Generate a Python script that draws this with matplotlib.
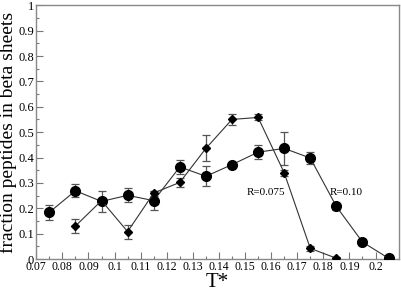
import numpy as np
import matplotlib
matplotlib.use("Agg")
import matplotlib.pyplot as plt
from matplotlib.ticker import FixedLocator

# R = 0.10 (circles)
t_r10 = [0.075, 0.085, 0.095, 0.105, 0.115, 0.125, 0.135, 0.145, 0.155,
         0.165, 0.175, 0.185, 0.195, 0.205]
f_r10 = [0.184, 0.269, 0.227, 0.251, 0.230, 0.363, 0.326, 0.372, 0.421,
         0.436, 0.398, 0.207, 0.067, 0.003]
e_r10 = [0.029, 0.025, 0.040, 0.027, 0.037, 0.029, 0.040, 0.006, 0.027,
         0.066, 0.024, 0.013, 0.006, 0.004]

# R = 0.075 (diamonds)
t_r075 = [0.085, 0.095, 0.105, 0.115, 0.125, 0.135, 0.145, 0.155, 0.165,
          0.175, 0.185]
f_r075 = [0.130, 0.230, 0.108, 0.260, 0.302, 0.436, 0.550, 0.558, 0.340,
          0.042, 0.003]
e_r075 = [0.026, 0.010, 0.028, 0.010, 0.017, 0.051, 0.021, 0.012, 0.011,
          0.009, 0.003]

labels = ["R=0.075", "R=0.10"]
label_pos = [(0.158, 0.263), (0.1887, 0.263)]

x_ticks = [0.07, 0.08, 0.09, 0.1, 0.11, 0.12, 0.13, 0.14, 0.15, 0.16,
           0.17, 0.18, 0.19, 0.2]
y_ticks = [0, 0.1, 0.2, 0.3, 0.4, 0.5, 0.6, 0.7, 0.8, 0.9, 1]

plt.rcParams["font.family"] = ["Liberation Serif", "DejaVu Serif"]

fig = plt.figure(figsize=(4.01, 2.93), dpi=100)
ax = fig.add_axes([0.0905, 0.116, 0.9045, 0.866])

line_col = "#333333"
err_col = "#555555"

ax.errorbar(t_r10, f_r10, yerr=e_r10, fmt="o", color=line_col, ls="-", lw=0.8,
            ms=7, mfc="black", mec="black", ecolor=err_col, elinewidth=0.9,
            capsize=3, capthick=0.9, zorder=3)
ax.errorbar(t_r075, f_r075, yerr=e_r075, fmt="D", color=line_col, ls="-", lw=0.8,
            ms=4.5, mfc="black", mec="black", ecolor=err_col, elinewidth=0.9,
            capsize=3, capthick=0.9, zorder=3)

for txt, (x, y) in zip(labels, label_pos):
    ax.text(x, y, txt, ha="center", va="center", fontsize=8)

ax.set_xlim(0.07, 0.209)
ax.set_ylim(0, 1)
ax.set_xticks(x_ticks)
ax.set_xticklabels([f"{v:g}" for v in x_ticks])
ax.set_yticks(y_ticks)
ax.set_yticklabels([f"{v:g}" for v in y_ticks])
ax.xaxis.set_minor_locator(FixedLocator([v + 0.005 for v in x_ticks]))
ax.yaxis.set_minor_locator(FixedLocator([v + 0.05 for v in y_ticks[:-1]]))

ax.tick_params(which="both", direction="in", top=False, right=False,
               color="#777777", pad=1.5)
ax.tick_params(which="major", length=5, width=0.8)
ax.tick_params(which="minor", length=2.5, width=0.8)
ax.tick_params(axis="x", labelsize=8.5)
ax.tick_params(axis="y", labelsize=9)
for sp in ax.spines.values():
    sp.set_color("#888888")
    sp.set_linewidth(1.0)

ax.set_xlabel("T*", fontsize=15, labelpad=0)
ax.set_ylabel("fraction peptides in beta sheets", fontsize=14, va="center")
ax.yaxis.set_label_coords(-0.078, 0.5)

fig.savefig("out.png", dpi=100)
